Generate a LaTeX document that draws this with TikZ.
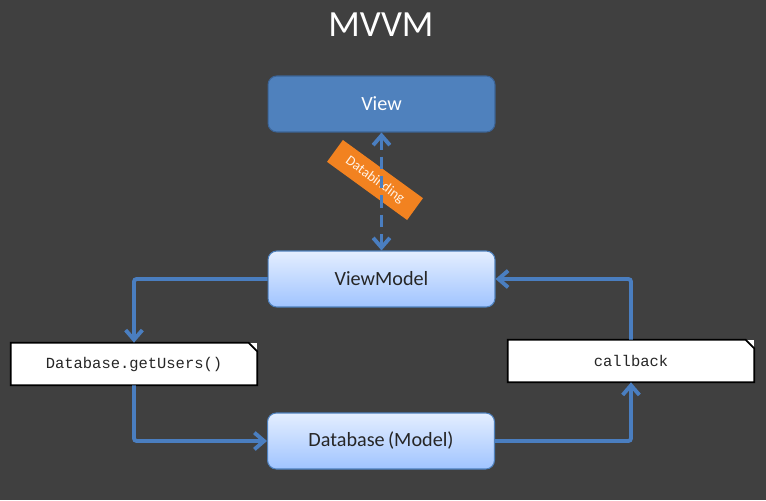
\documentclass[tikz,border=0pt]{standalone}
\usepackage{fontspec}
\setmainfont{Carlito}
\setmonofont{Liberation Mono}
\usetikzlibrary{arrows.meta}

\definecolor{bgGray}{RGB}{64,64,64}
\definecolor{viewBlue}{RGB}{79,129,189}
\definecolor{viewEdge}{RGB}{60,100,150}
\definecolor{linkBlue}{RGB}{74,126,192}
\definecolor{boxTop}{RGB}{228,238,255}
\definecolor{boxBottom}{RGB}{160,196,255}
\definecolor{tagOrange}{RGB}{242,130,32}

\tikzset{
    layer/.style={rounded corners=5pt, minimum width=4.54cm, minimum height=1.12cm,
        draw=viewBlue, line width=0.6pt, font=\fontsize{11.5}{13}\selectfont},
    note/.style={minimum width=4.92cm, minimum height=0.84cm, fill=white,
        font=\ttfamily\fontsize{8.8}{10}\selectfont, text=black!85},
    tip/.style={Straight Barb[length=5.5pt, width=9.5pt]},
    link/.style={draw=linkBlue, line width=2.2pt, rounded corners=1.5pt, -{Straight Barb[length=5.5pt, width=9.5pt]}},
    tag/.style={fill=tagOrange, text=white!90!orange, minimum width=1.98cm,
        minimum height=0.54cm, inner sep=1pt, font=\fontsize{8}{9}\selectfont}
}

\begin{document}
\begin{tikzpicture}[x=0.02cm, y=-0.02cm]
    \fill[bgGray] (0,0) rectangle (766,500);
    \useasboundingbox (0,0) rectangle (766,500);

    % title
    \node[text=white, font=\fontsize{21}{24}\selectfont] (title) at (381,25) {MVVM};

    % layers
    \node[layer, fill=viewBlue, draw=viewEdge, text=white] (view) at (381.5,104) {View};
    \node[layer, top color=boxTop, bottom color=boxBottom, text=black!85] (vm) at (381.5,279) {ViewModel};
    \node[layer, top color=boxTop, bottom color=boxBottom, text=black!85] (db) at (381,441) {Database\,(Model)};

    % notes
    \node[note] (getusers) at (134,364) {Database.getUsers()};
    \node[note] (callback) at (631,361) {callback};
    \foreach \n in {getusers, callback}
        \draw[black, line width=1pt]
            (\n.south west) -- (\n.north west) -- ([xshift=-5pt]\n.north east)
            -- ([yshift=-5pt]\n.north east) -- (\n.south east) -- cycle;

    % databinding
    \node[tag, rotate=-36] (bind) at (375,180) {Databinding};
    \draw[link, dash pattern=on 7pt off 4pt, {Straight Barb[length=5.5pt, width=9.5pt]}-{Straight Barb[length=5.5pt, width=9.5pt]}]
        (view.south) -- (vm.north);

    % flow
    \draw[link] (vm.west) -| (getusers.north);
    \draw[link] (getusers.south) |- (db.west);
    \draw[link] (db.east) -| (callback.south);
    \draw[link] (callback.north) |- (vm.east);
\end{tikzpicture}
\end{document}
